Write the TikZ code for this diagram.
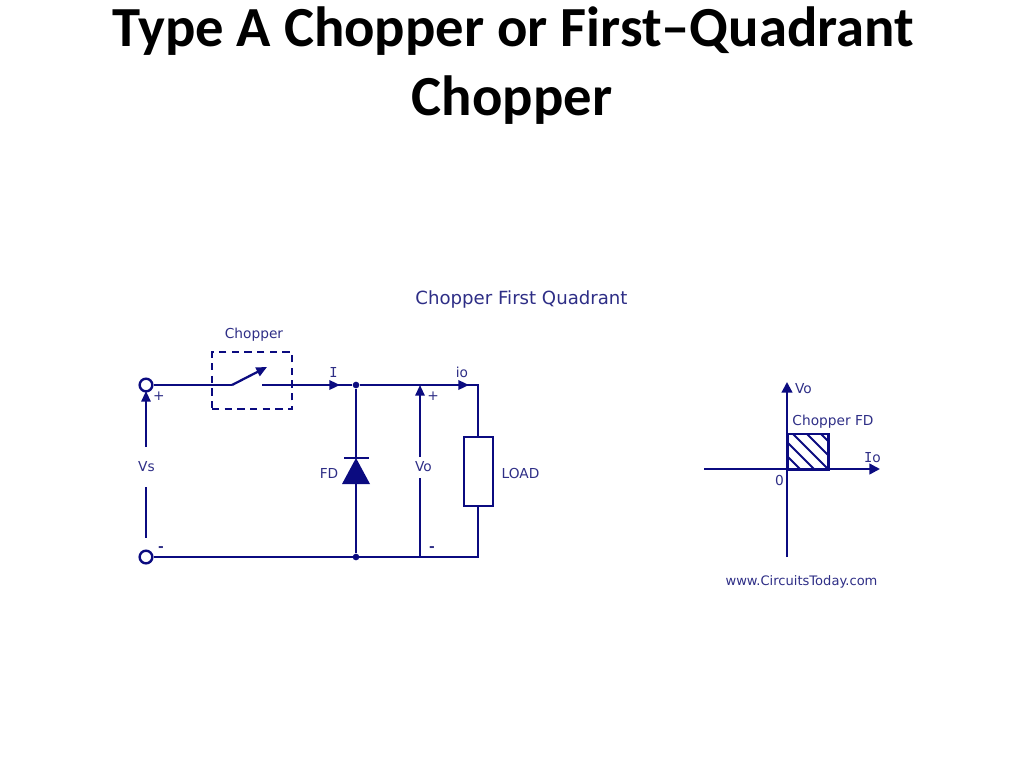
\documentclass[tikz,border=0pt]{standalone}
\usepackage{fontspec}
\setmainfont{DejaVu Sans}
\newfontfamily\titlefont{Carlito}
\newfontfamily\monoI{DejaVu Sans Mono}
\usetikzlibrary{arrows.meta}
\definecolor{wire}{HTML}{0B0B80}
\definecolor{ink}{HTML}{2E2E86}
\tikzset{
  x=0.75pt,y=-0.75pt,
  wireline/.style={draw=wire,line width=1.7pt,line cap=butt},
  thin wire/.style={draw=wire,line width=1.4pt},
  label/.style={text=ink,font=\fontsize{10.3pt}{12pt}\selectfont,inner sep=0pt,anchor=center},
  terminal/.style={circle,draw=wire,line width=1.8pt,fill=white,minimum size=9.5pt,inner sep=0pt},
  junction/.style={circle,fill=wire,minimum size=5pt,inner sep=0pt},
  titletext/.style={font=\titlefont\bfseries\fontsize{42.5pt}{50pt}\selectfont,text=black,inner sep=0pt,anchor=center}
}
\begin{document}
\begin{tikzpicture}
\useasboundingbox (0,0) rectangle (1024,768);
\node[titletext] (t1) at (513,31) {Type A Chopper or First–Quadrant};
\node[titletext] (t2) at (512,100) {Chopper};
\node[label,font=\fontsize{13.6pt}{16pt}\selectfont] (heading) at (521.5,299) {Chopper First Quadrant};

% circuit
\node[terminal] (ttop) at (146,385) {};
\node[terminal] (tbot) at (146,557) {};
\node[junction] (jtop) at (356,385) {};
\node[junction] (jbot) at (356,557) {};
\coordinate (sw1) at (232,385);
\coordinate (sw2) at (262,385);
\coordinate (swtip) at (267,367);
\coordinate (itip) at (340,385);
\coordinate (iotip) at (469,385);
\coordinate (tr) at (478,385);
\coordinate (br) at (478,557);
\coordinate (vobot) at (420,557);
\coordinate (votop) at (420,385);
\coordinate (vom1) at (420,457);
\coordinate (vom2) at (420,478);
\coordinate (vstop) at (146,391);
\coordinate (vsm1) at (146,447);
\coordinate (vsm2) at (146,487);
\coordinate (vsm3) at (146,538);

\node[draw=wire,line width=1.6pt,dashed,dash pattern=on 5.5pt off 4pt,minimum width=60pt,minimum height=42.7pt,inner sep=0pt] (chop) at (252,380.5) {};
\node[draw=wire,line width=1.5pt,fill=white,minimum width=21.75pt,minimum height=51.75pt,inner sep=0pt] (load) at (478.5,471.5) {};

\draw[wireline] (ttop.east) -- (sw1);
\draw[wireline,-{Triangle[length=8pt,width=7pt]}] (sw1) -- (swtip);
\draw[wireline] (sw2) -- (jtop);
\draw[wireline,-{Triangle[length=8pt,width=7pt]}] (sw2) -- (itip);
\draw[wireline] (jtop) -- (tr) -- (load.north -| tr);
\draw[wireline,-{Triangle[length=8pt,width=7pt]}] (jtop) -- (iotip);
\draw[wireline] (load.south -| br) -- (br) -- (tbot.east);

% diode
\coordinate (dapex) at (356,458);
\coordinate (dl) at (342,484);
\coordinate (dr) at (370,484);
\coordinate (bl) at (344,458);
\coordinate (brr) at (369,458);
\draw[wireline] (jtop) -- (dapex);
\draw[wireline] (dl -| jtop) -- (jbot);
\fill[wire] (dapex) -- (dr) -- (dl) -- cycle;
\draw[wireline] (bl) -- (brr);

% Vo, Vs
\draw[thin wire,-{Triangle[length=8pt,width=7pt]}] (vom1) -- (votop);
\draw[thin wire] (vom2) -- (vobot);
\draw[thin wire,-{Triangle[length=8pt,width=7pt]}] (vsm1) -- (vstop);
\draw[thin wire] (vsm2) -- (vsm3);

\node[label] (lchop) at (254,335) {Chopper};
\node[label] (lI) at (333.5,372) {\monoI I};
\node[label] (lio) at (462,372.5) {io};
\node[label] (lplus1) at (159,396) {+};
\node[label] (lplus2) at (433,396) {+};
\node[label] (lminus1) at (161,549) {\textbf{-}};
\node[label] (lminus2) at (432,549) {\textbf{-}};
\node[label] (lvs) at (146.5,467) {Vs};
\node[label] (lvo) at (423.5,467) {Vo};
\node[label] (lfd) at (329,473.5) {FD};
\node[label] (lload) at (520.5,473) {LOAD};

% quadrant plot
\coordinate (ytop) at (787,382);
\coordinate (ybot) at (787,557);
\coordinate (xl) at (704,469);
\coordinate (xr) at (880,469);
\begin{scope}
\clip (787,433) rectangle (828,469);
\foreach \c in {-57,-43,-29,-15,-1,13}{
  \draw[wireline,line width=1.4pt] (807+\c-20,433-20) -- (807+\c+60,433+60);
}
\end{scope}
\node[draw=wire,line width=1.7pt,minimum width=30.25pt,minimum height=27pt,inner sep=0pt,anchor=north west] (sq) at (787,433) {};
\draw[wireline,-{Triangle[length=8pt,width=8pt]}] (ybot) -- (ytop);
\draw[wireline,-{Triangle[length=8pt,width=8pt]}] (xl) -- (xr);
\node[label] (lvoa) at (803.5,389) {Vo};
\node[label] (lcfd) at (833,422) {Chopper FD};
\node[label] (lioa) at (872.5,457.5) {{\monoI I}o};
\node[label] (lzero) at (779.5,480) {0};
\node[label,font=\fontsize{9.8pt}{12pt}\selectfont] (lurl) at (801.5,582) {www.CircuitsToday.com};
\end{tikzpicture}
\end{document}
